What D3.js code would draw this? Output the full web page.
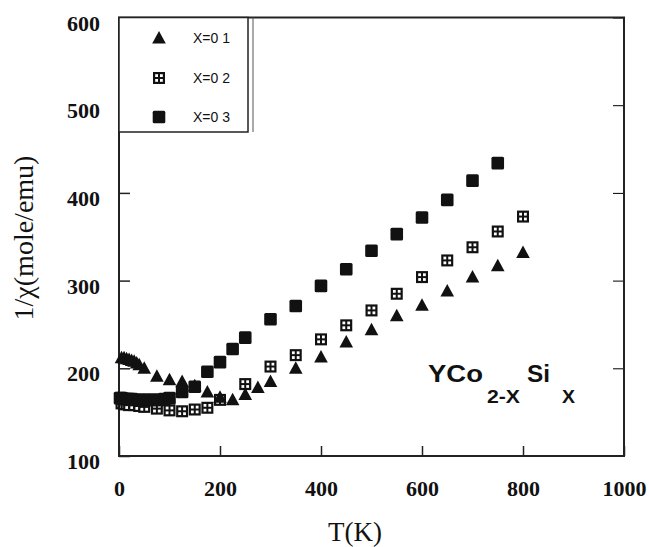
<!DOCTYPE html>
<html>
<head>
<meta charset="utf-8">
<script src="https://cdn.jsdelivr.net/npm/d3@7"></script>
<style>
  body { margin: 0; background: #fff; }
</style>
</head>
<body>
<div id="vis"></div>
<script>
// X = 0.1 (triangles)
const tempA = [5, 10, 15, 20, 25, 30, 35, 40, 50, 75, 100, 125, 150, 175, 200, 225, 250, 275, 300, 350, 400, 450, 500, 550, 600, 650, 700, 750, 800];
const valA  = [212, 212, 211, 210, 209, 208, 206, 204, 200, 191, 187, 185, 180, 173, 167, 164, 170, 178, 185, 200, 213, 230, 244, 260, 272, 288, 304, 317, 332];
// X = 0.2 (crossed squares)
const tempB = [5, 10, 15, 20, 30, 40, 50, 75, 100, 125, 150, 175, 200, 250, 300, 350, 400, 450, 500, 550, 600, 650, 700, 750, 800];
const valB  = [160, 159, 159, 158, 158, 157, 156, 154, 152, 151, 153, 155, 164, 182, 202, 215, 233, 249, 266, 285, 304, 323, 338, 356, 373];
// X = 0.3 (filled squares)
const tempC = [2, 5, 10, 15, 20, 25, 30, 40, 50, 60, 70, 80, 90, 100, 125, 150, 175, 200, 225, 250, 300, 350, 400, 450, 500, 550, 600, 650, 700, 750];
const valC  = [166, 166, 165, 165, 165, 165, 164, 164, 164, 164, 164, 164, 165, 166, 173, 179, 196, 207, 222, 235, 256, 271, 294, 313, 334, 353, 372, 392, 414, 434];

const xTicks = [0, 200, 400, 600, 800, 1000];
const yTicks = [100, 200, 300, 400, 500, 600];
const legendLabels = ["X=0 1", "X=0 2", "X=0 3"];

const W = 649, H = 547;
const svg = d3.select("#vis").append("svg")
    .attr("width", W).attr("height", H)
    .style("font-family", "'Liberation Serif', 'Times New Roman', serif");

svg.append("rect").attr("width", W).attr("height", H).attr("fill", "#fff");

const x = d3.scaleLinear().domain([0, 1000]).range([119, 624]);
const y = d3.scaleLinear().domain([100, 600]).range([456, 17.5]);

// Axes with inward ticks
const xAxis = svg.append("g")
    .attr("transform", `translate(0,${y(100)})`)
    .call(d3.axisBottom(x).tickValues(xTicks).tickFormat(d3.format("d")).tickSize(-10).tickPadding(24));
const yAxis = svg.append("g")
    .attr("transform", `translate(${x(0)},0)`)
    .call(d3.axisLeft(y).tickValues(yTicks).tickFormat(d3.format("d")).tickSize(-11).tickPadding(19));
svg.append("g")
    .attr("transform", `translate(${x(1000)},0)`)
    .call(d3.axisRight(y).tickValues(yTicks).tickSize(-11).tickFormat(""));

[xAxis, yAxis].forEach(function(g){
  g.attr("font-family", "'Liberation Serif', serif");
  g.selectAll("line").attr("stroke", "#222").attr("stroke-width", 1.5);
  g.selectAll("text")
    .attr("fill", "#111")
    .style("font-family", "'Liberation Serif', serif")
    .style("font-weight", "bold")
    .style("font-size", "22px");
});
yAxis.selectAll("text").attr("dy", "0.57em");
svg.selectAll(".domain").remove();

// Frame
svg.append("rect")
    .attr("x", x(0)).attr("y", y(600))
    .attr("width", x(1000) - x(0)).attr("height", y(100) - y(600))
    .attr("fill", "none").attr("stroke", "#222").attr("stroke-width", 2);

// Axis titles
svg.append("text")
    .attr("x", 355).attr("y", 541)
    .attr("text-anchor", "middle")
    .style("font-size", "27px").attr("fill", "#111")
    .text("T(K)");
svg.append("text")
    .attr("transform", "translate(33,238) rotate(-90)")
    .attr("text-anchor", "middle")
    .style("font-size", "28px").attr("fill", "#111")
    .text("1/χ(mole/emu)");

// Marker drawers
function triangle(g, cx, cy){
  g.append("path")
    .attr("d", `M${cx},${cy - 7} L${cx + 6.8},${cy + 5.5} L${cx - 6.8},${cy + 5.5} Z`)
    .attr("fill", "#111");
}
function crossSquare(g, cx, cy){
  g.append("rect").attr("x", cx - 6).attr("y", cy - 6)
    .attr("width", 12).attr("height", 12).attr("fill", "#111");
  [[-3.8, -3.8], [1, -3.8], [-3.8, 1], [1, 1]].forEach(function(o){
    g.append("rect").attr("x", cx + o[0]).attr("y", cy + o[1])
      .attr("width", 2.8).attr("height", 2.8).attr("fill", "#fff");
  });
}
function solidSquare(g, cx, cy){
  g.append("rect").attr("x", cx - 6.3).attr("y", cy - 6.3)
    .attr("width", 12.6).attr("height", 12.6).attr("rx", 1.5).attr("fill", "#111");
}

const marks = svg.append("g");
tempB.forEach(function(t, i){ crossSquare(marks, x(t), y(valB[i])); });
tempA.forEach(function(t, i){ triangle(marks, x(t), y(valA[i])); });
tempC.forEach(function(t, i){ solidSquare(marks, x(t), y(valC[i])); });

// Legend
const leg = svg.append("g");
leg.append("rect")
    .attr("x", x(0)).attr("y", y(600))
    .attr("width", 248 - x(0)).attr("height", 132 - y(600))
    .attr("fill", "#fff").attr("stroke", "#222").attr("stroke-width", 1.5);
leg.append("line")
    .attr("x1", 253).attr("x2", 253).attr("y1", y(600)).attr("y2", 132)
    .attr("stroke", "#555").attr("stroke-width", 1);
const drawers = [triangle, crossSquare, solidSquare];
const legY = [38, 78, 117];
legendLabels.forEach(function(lab, i){
  drawers[i](leg, 159, legY[i]);
  leg.append("text")
    .attr("x", 193).attr("y", legY[i] + 5)
    .style("font-family", "'Liberation Sans', Arial, sans-serif")
    .style("font-size", "14px").attr("fill", "#111")
    .text(lab);
});

// Compound label
const comp = svg.append("g")
    .style("font-family", "'Liberation Sans', Arial, sans-serif")
    .style("font-weight", "bold").attr("fill", "#111");
const parts = [
  {t: "YCo", x: 428, y: 382, s: 24, w: 55},
  {t: "2-X", x: 487, y: 403, s: 18, w: 33},
  {t: "Si", x: 527, y: 382, s: 24, w: 23},
  {t: "X", x: 562, y: 403, s: 18, w: 13}
];
parts.forEach(function(p){
  comp.append("text")
    .attr("x", p.x).attr("y", p.y)
    .style("font-size", p.s + "px")
    .attr("textLength", p.w).attr("lengthAdjust", "spacingAndGlyphs")
    .text(p.t);
});
</script>
</body>
</html>
